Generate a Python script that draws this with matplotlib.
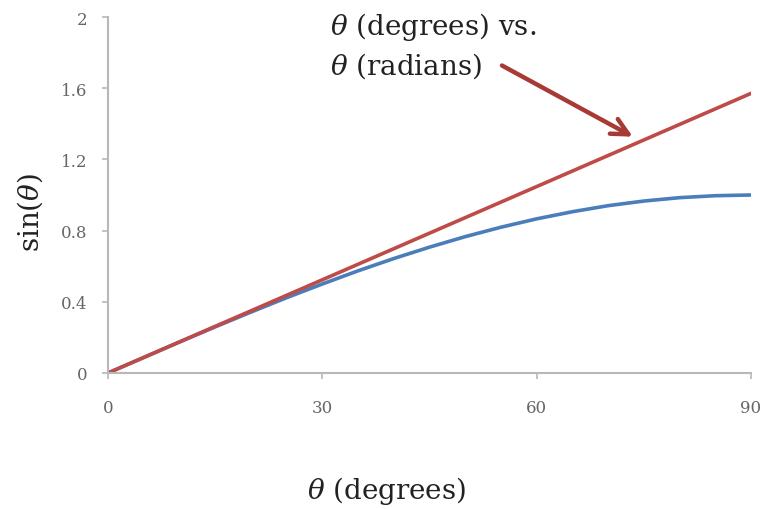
import matplotlib
matplotlib.use("Agg")
import matplotlib.pyplot as plt

degrees = [0, 5, 10, 15, 20, 25, 30, 35, 40, 45, 50, 55, 60, 65, 70, 75, 80, 85, 90]
sin_values = [0.0, 0.087, 0.174, 0.259, 0.342, 0.423, 0.5, 0.574, 0.643, 0.707,
              0.766, 0.819, 0.866, 0.906, 0.940, 0.966, 0.985, 0.996, 1.0]
radian_degrees = [0, 90]
radian_values = [0.0, 1.571]
x_ticks = [0, 30, 60, 90]
y_ticks = [0, 0.4, 0.8, 1.2, 1.6, 2]
y_tick_labels = ["0", "0.4", "0.8", "1.2", "1.6", "2"]

plt.rcParams['font.family'] = ['DejaVu Serif']
plt.rcParams['mathtext.fontset'] = 'dejavuserif'

fig = plt.figure(figsize=(7.64, 5.10), dpi=100)
ax = fig.add_axes([0.1414, 0.2667, 0.8416, 0.698])

blue = '#4a7ebb'
red = '#be4b48'
ax.plot(degrees, sin_values, color=blue, lw=2.6, solid_capstyle='round')
ax.plot(radian_degrees, radian_values, color=red, lw=2.6, solid_capstyle='round')

ax.set_xlim(0, 90)
ax.set_ylim(0, 2)
ax.set_xticks(x_ticks)
ax.set_yticks(y_ticks)
ax.set_yticklabels(y_tick_labels)

for s in ['top', 'right']:
    ax.spines[s].set_visible(False)
for s in ['left', 'bottom']:
    ax.spines[s].set_color('#b8b8b8')
    ax.spines[s].set_linewidth(1.5)
ax.tick_params(axis='both', colors='#b8b8b8', length=4, width=1.2,
               labelcolor='#666666', labelsize=12)
ax.tick_params(axis='x', pad=15)
ax.tick_params(axis='y', pad=11)

ax.set_ylabel(r'sin($\theta$)', fontsize=20, color='#222222')
ax.yaxis.set_label_coords(-0.098, 0.455)
ax.set_xlabel(r'$\theta$ (degrees)', fontsize=20, color='#222222')
ax.xaxis.set_label_coords(0.434, -0.283)

ax.text(31.0, 2.04, '$\\theta$ (degrees) vs.\n$\\theta$ (radians)', fontsize=20,
        color='#222222', va='top', ha='left', linespacing=1.35, clip_on=False)
ax.annotate('', xy=(73.8, 1.32), xytext=(54.8, 1.735),
            arrowprops=dict(arrowstyle='->,head_length=1.2,head_width=0.6',
                            color='#a83a36', lw=3.2))

fig.savefig('out.png', dpi=100)
